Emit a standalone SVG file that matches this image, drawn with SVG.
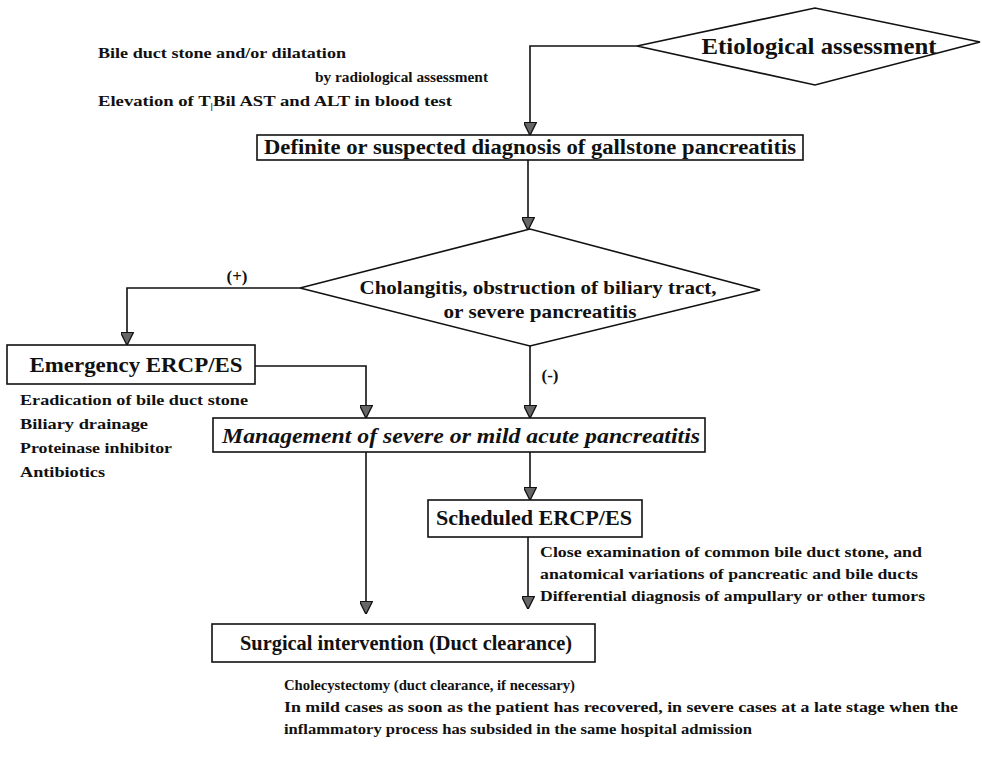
<svg xmlns="http://www.w3.org/2000/svg" width="982" height="771" viewBox="0 0 982 771">
<style>
.box{fill:#fff;stroke:#111;stroke-width:1.6}
.dia{fill:#fff;stroke:#111;stroke-width:1.6}
.con{fill:none;stroke:#111;stroke-width:1.6}
.t{font-family:"Liberation Serif","Times New Roman",serif;font-weight:bold;fill:#111}
.big{font-size:21px}
.sm{font-size:15.5px}
.it{font-style:italic}
</style>
<defs>
<marker id="arB" viewBox="0 0 10 10" refX="9" refY="5" markerWidth="13" markerHeight="13" markerUnits="userSpaceOnUse" orient="auto">
<path d="M0,0 L10,5 L0,10 Z" fill="#666" stroke="#111" stroke-width="1"/>
</marker>
</defs>
<rect width="982" height="771" fill="#fff"/>

<g id="connectors">
<polyline class="con" points="637,46 530,46 530,134" marker-end="url(#arB)"/>
<line class="con" x1="528" y1="160" x2="528" y2="229" marker-end="url(#arB)"/>
<polyline class="con" points="300,288 127,288 127,344" marker-end="url(#arB)"/>
<polyline class="con" points="255,366 366,366 366,417" marker-end="url(#arB)"/>
<line class="con" x1="530" y1="346" x2="530" y2="417" marker-end="url(#arB)"/>
<line class="con" x1="530" y1="452" x2="530" y2="499" marker-end="url(#arB)"/>
<line class="con" x1="528" y1="537" x2="528" y2="608" marker-end="url(#arB)"/>
<line class="con" x1="366" y1="452" x2="366" y2="613" marker-end="url(#arB)"/>
<text class="t" x="237" y="282" font-size="17" text-anchor="middle">(+)</text>
<text class="t" x="550" y="381" font-size="17" text-anchor="middle">(-)</text>
</g>

<g id="notes-top">
<text class="t sm" x="98" y="58" textLength="248" lengthAdjust="spacingAndGlyphs">Bile duct stone and/or dilatation</text>
<text class="t sm" x="315" y="82" textLength="173" lengthAdjust="spacingAndGlyphs">by radiological assessment</text>
<text class="t sm" x="98" y="106" textLength="354" lengthAdjust="spacingAndGlyphs">Elevation of T<tspan font-size="9" dy="3">|</tspan><tspan dy="-3">Bil AST and ALT in blood test</tspan></text>
</g>

<g id="etiological">
<polygon class="dia" points="637,46 815,8 980,42 815,85"/>
<text class="t" x="819" y="54" font-size="23" text-anchor="middle" textLength="235" lengthAdjust="spacingAndGlyphs">Etiological assessment</text>
</g>

<g id="definite">
<rect class="box" x="257" y="135" width="546" height="25"/>
<text class="t big" x="530" y="154" text-anchor="middle" textLength="532" lengthAdjust="spacingAndGlyphs">Definite or suspected diagnosis of gallstone pancreatitis</text>
</g>

<g id="cholangitis">
<polygon class="dia" points="300,288 530,229 760,290 530,346"/>
<text class="t" x="538" y="294" font-size="19" text-anchor="middle" textLength="357" lengthAdjust="spacingAndGlyphs">Cholangitis, obstruction of biliary tract,</text>
<text class="t" x="540" y="318" font-size="19" text-anchor="middle" textLength="193" lengthAdjust="spacingAndGlyphs">or severe pancreatitis</text>
</g>

<g id="emergency">
<rect class="box" x="7" y="345" width="248" height="39"/>
<text class="t big" x="136" y="372" text-anchor="middle" textLength="213" lengthAdjust="spacingAndGlyphs">Emergency ERCP/ES</text>
<text class="t sm" x="20" y="405" textLength="228" lengthAdjust="spacingAndGlyphs">Eradication of bile duct stone</text>
<text class="t sm" x="20" y="429" textLength="128" lengthAdjust="spacingAndGlyphs">Biliary drainage</text>
<text class="t sm" x="20" y="453" textLength="152" lengthAdjust="spacingAndGlyphs">Proteinase inhibitor</text>
<text class="t sm" x="20" y="477" textLength="85" lengthAdjust="spacingAndGlyphs">Antibiotics</text>
</g>

<g id="management">
<rect class="box" x="213" y="418" width="492" height="34"/>
<text class="t big it" x="461" y="443" text-anchor="middle" textLength="478" lengthAdjust="spacingAndGlyphs">Management of severe or mild acute pancreatitis</text>
</g>

<g id="scheduled">
<rect class="box" x="428" y="500" width="214" height="37"/>
<text class="t big" x="534" y="525" text-anchor="middle" textLength="196" lengthAdjust="spacingAndGlyphs">Scheduled ERCP/ES</text>
<text class="t sm" x="540" y="557" textLength="382" lengthAdjust="spacingAndGlyphs">Close examination of common bile duct stone, and</text>
<text class="t sm" x="540" y="579" textLength="378" lengthAdjust="spacingAndGlyphs">anatomical variations of pancreatic and bile ducts</text>
<text class="t sm" x="540" y="601" textLength="385" lengthAdjust="spacingAndGlyphs">Differential diagnosis of ampullary or other tumors</text>
</g>

<g id="surgical">
<rect class="box" x="212" y="624" width="383" height="38"/>
<text class="t" x="406" y="650" font-size="22" text-anchor="middle" textLength="332" lengthAdjust="spacingAndGlyphs">Surgical intervention (Duct clearance)</text>
<text class="t sm" x="284" y="690" textLength="291" lengthAdjust="spacingAndGlyphs">Cholecystectomy  (duct clearance, if necessary)</text>
<text class="t sm" x="284" y="712" textLength="674" lengthAdjust="spacingAndGlyphs">In mild cases as soon as the patient has recovered, in severe cases at a late stage when the</text>
<text class="t sm" x="284" y="734" textLength="468" lengthAdjust="spacingAndGlyphs">inflammatory process has subsided in the same hospital admission</text>
</g>
</svg>
